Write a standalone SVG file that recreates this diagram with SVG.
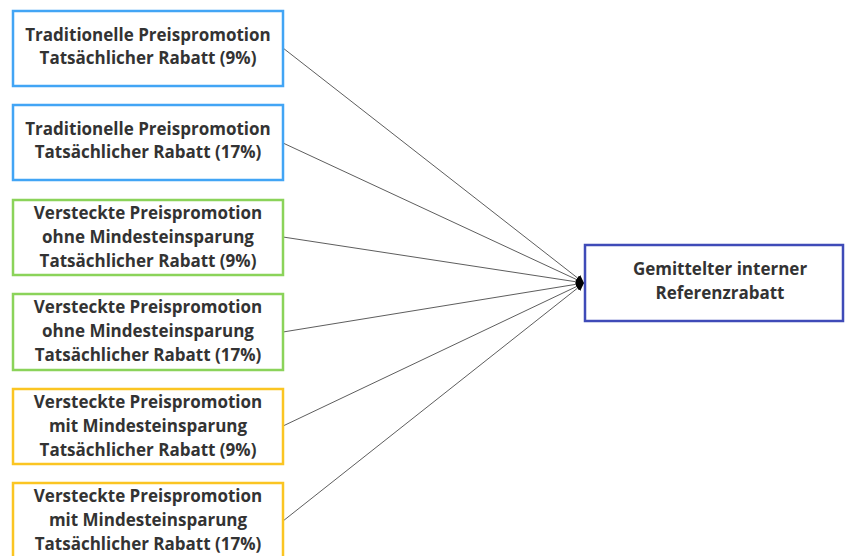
<svg xmlns="http://www.w3.org/2000/svg" width="845" height="556" viewBox="0 0 845 556">
  <style>
    .box { fill: #ffffff; stroke-width: 2.5; }
    .blue { stroke: #42a5f5; }
    .green { stroke: #8bd35a; }
    .yellow { stroke: #fbc522; }
    .navy { stroke: #3f4bb8; }
    .lbl { font-family: "Open Sans", "Liberation Sans", sans-serif; font-weight: 700; font-size: 17px; fill: #333333; text-anchor: middle; }
    .edge { stroke: #333333; stroke-width: 0.8; fill: none; marker-end: url(#arrow); }
  </style>
  <defs>
    <marker id="arrow" viewBox="0 0 10 10" refX="10" refY="5" markerWidth="8" markerHeight="8" markerUnits="userSpaceOnUse" orient="auto">
      <path d="M0,0 L10,5 L0,10 z" fill="#000000"/>
    </marker>
  </defs>

  <g id="connectors">
    <line class="edge" x1="283" y1="48" x2="584" y2="283"/>
    <line class="edge" x1="283" y1="143" x2="584" y2="283"/>
    <line class="edge" x1="283" y1="237" x2="584" y2="283"/>
    <line class="edge" x1="283" y1="332" x2="584" y2="283"/>
    <line class="edge" x1="283" y1="426" x2="584" y2="283"/>
    <line class="edge" x1="283" y1="521" x2="584" y2="283"/>
  </g>

  <g id="trad9">
    <rect class="box blue" x="13" y="11" width="270" height="75"/>
    <text class="lbl" x="148" y="41">Traditionelle Preispromotion</text>
    <text class="lbl" x="148" y="64">Tatsächlicher Rabatt (9%)</text>
  </g>
  <g id="trad17">
    <rect class="box blue" x="13" y="105" width="270" height="75"/>
    <text class="lbl" x="148" y="135">Traditionelle Preispromotion</text>
    <text class="lbl" x="148" y="158">Tatsächlicher Rabatt (17%)</text>
  </g>
  <g id="versteckt-ohne9">
    <rect class="box green" x="13" y="200" width="270" height="75"/>
    <text class="lbl" x="148" y="219">Versteckte Preispromotion</text>
    <text class="lbl" x="148" y="243">ohne Mindesteinsparung</text>
    <text class="lbl" x="148" y="267">Tatsächlicher Rabatt (9%)</text>
  </g>
  <g id="versteckt-ohne17">
    <rect class="box green" x="13" y="294" width="270" height="76"/>
    <text class="lbl" x="148" y="313">Versteckte Preispromotion</text>
    <text class="lbl" x="148" y="337">ohne Mindesteinsparung</text>
    <text class="lbl" x="148" y="361">Tatsächlicher Rabatt (17%)</text>
  </g>
  <g id="versteckt-mit9">
    <rect class="box yellow" x="13" y="389" width="270" height="75"/>
    <text class="lbl" x="148" y="408">Versteckte Preispromotion</text>
    <text class="lbl" x="148" y="432">mit Mindesteinsparung</text>
    <text class="lbl" x="148" y="456">Tatsächlicher Rabatt (9%)</text>
  </g>
  <g id="versteckt-mit17">
    <rect class="box yellow" x="13" y="483" width="270" height="76"/>
    <text class="lbl" x="148" y="502">Versteckte Preispromotion</text>
    <text class="lbl" x="148" y="526">mit Mindesteinsparung</text>
    <text class="lbl" x="148" y="550">Tatsächlicher Rabatt (17%)</text>
  </g>
  <g id="referenzrabatt">
    <rect class="box navy" x="585" y="245" width="258" height="76"/>
    <text class="lbl" x="720" y="275">Gemittelter interner</text>
    <text class="lbl" x="720" y="299">Referenzrabatt</text>
  </g>
</svg>
